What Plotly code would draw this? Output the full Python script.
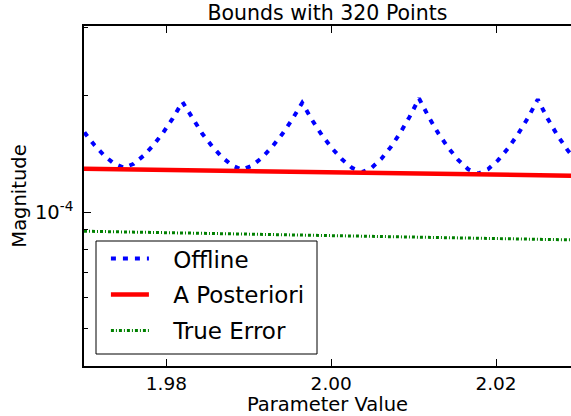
import plotly.graph_objects as go

# Offline bound (blue dashed)
offline_x = [1.9677, 1.96889, 1.97009, 1.97128, 1.97247, 1.97367, 1.97486,
             1.97604, 1.97722, 1.97841, 1.97959, 1.98077, 1.98195,
             1.98316, 1.98436, 1.98557, 1.98677, 1.98798, 1.98918,
             1.99040, 1.99161, 1.99283, 1.99404, 1.99526, 1.99647,
             1.99769, 1.99890, 2.00012, 2.00134, 2.00255, 2.00377,
             2.00492, 2.00607, 2.00722, 2.00836, 2.00951, 2.01066,
             2.01185, 2.01304, 2.01424, 2.01543, 2.01662, 2.01781,
             2.01902, 2.02023, 2.02144, 2.02265, 2.02386, 2.02507,
             2.02626, 2.02745, 2.02864, 2.02982, 2.03101, 2.0322]
offline_y = [1.930e-4, 1.750e-4, 1.605e-4, 1.490e-4, 1.400e-4, 1.335e-4, 1.304e-4,
             1.335e-4, 1.400e-4, 1.490e-4, 1.605e-4, 1.750e-4, 1.930e-4,
             1.745e-4, 1.596e-4, 1.479e-4, 1.387e-4, 1.321e-4, 1.289e-4,
             1.320e-4, 1.385e-4, 1.476e-4, 1.591e-4, 1.738e-4, 1.919e-4,
             1.731e-4, 1.580e-4, 1.462e-4, 1.368e-4, 1.302e-4, 1.270e-4,
             1.304e-4, 1.374e-4, 1.474e-4, 1.603e-4, 1.765e-4, 1.970e-4,
             1.761e-4, 1.595e-4, 1.465e-4, 1.364e-4, 1.292e-4, 1.258e-4,
             1.292e-4, 1.362e-4, 1.462e-4, 1.591e-4, 1.753e-4, 1.958e-4,
             1.748e-4, 1.582e-4, 1.452e-4, 1.351e-4, 1.279e-4, 1.245e-4]

# A posteriori bound (red solid)
apost_x = [1.97, 1.98, 1.99, 2.00, 2.01, 2.02, 2.0291]
apost_y = [1.296e-4, 1.286e-4, 1.277e-4, 1.268e-4, 1.259e-4, 1.250e-4, 1.243e-4]

# True error (green dash-dot)
true_x = [1.97, 1.98, 1.99, 2.00, 2.01, 2.02, 2.0291]
true_y = [0.893e-4, 0.885e-4, 0.877e-4, 0.869e-4, 0.862e-4, 0.855e-4, 0.848e-4]

x_ticks = [1.98, 2.00, 2.02]
x_tick_text = ["1.98", "2.00", "2.02"]
y_ticks = [1e-4]
y_tick_text = ["10<sup>-4</sup>"]
y_minor = [4e-5, 5e-5, 6e-5, 7e-5, 8e-5, 9e-5, 2e-4, 3e-4]

FONT = "DejaVu Sans"
PAD = "\u00a0\u00a0\u2009"

fig = go.Figure()
fig.add_trace(go.Scatter(x=offline_x, y=offline_y, mode="lines", name=PAD + "Offline",
                         legendgroup="a",
                         line=dict(color="#0000ff", width=4, dash="5px,7px")))
fig.add_trace(go.Scatter(x=apost_x, y=apost_y, mode="lines", name=PAD + "A Posteriori",
                         legendgroup="b",
                         line=dict(color="#ff0000", width=4.5)))
fig.add_trace(go.Scatter(x=true_x, y=true_y, mode="lines", name=PAD + "True Error",
                         legendgroup="c",
                         line=dict(color="#008000", width=3, dash="3px,2px,1px,2px")))

fig.update_layout(
    width=571, height=416,
    margin=dict(l=84, r=0, t=26, b=50, autoexpand=False),
    paper_bgcolor="white", plot_bgcolor="white",
    font=dict(family=FONT, color="black"),
    title=dict(text="Bounds with 320 Points", font=dict(size=20.5, family=FONT),
               x=0.5, xref="paper", xanchor="center",
               y=1 - 13 / 416, yref="container", yanchor="middle"),
    showlegend=True,
    legend=dict(x=0.045, y=0.379, xanchor="left", yanchor="top",
                bgcolor="rgba(0,0,0,0)", borderwidth=0,
                traceorder="grouped", tracegroupgap=3,
                font=dict(size=23, family=FONT), itemwidth=38),
    shapes=[dict(type="rect", xref="paper", yref="paper",
                 x0=(96 - 84) / 487, x1=(317 - 84) / 487,
                 y0=(366 - 354) / 340, y1=(366 - 241) / 340,
                 line=dict(color="black", width=1), fillcolor="white", layer="below")],
)

fig.update_xaxes(
    range=[1.97, 2.0291], automargin=False,
    tickvals=x_ticks, ticktext=x_tick_text,
    tickfont=dict(size=18.5, family=FONT),
    ticks="inside", ticklen=7, tickwidth=1, tickcolor="black",
    showline=True, linecolor="black", linewidth=1.5, mirror="ticks",
    showgrid=False, zeroline=False,
    title=dict(text="Parameter Value", font=dict(size=19.5, family=FONT), standoff=2),
)
fig.update_yaxes(
    type="log", automargin=False,
    range=[-4.398, -3.518],
    tickvals=y_ticks, ticktext=y_tick_text,
    tickfont=dict(size=19.5, family=FONT), ticklabelstandoff=5,
    ticks="inside", ticklen=7, tickwidth=1, tickcolor="black",
    minor=dict(tickvals=y_minor, ticks="inside", ticklen=4, tickwidth=1, tickcolor="black", showgrid=False),
    showline=True, linecolor="black", linewidth=1.5, mirror=False,
    showgrid=False, zeroline=False,
    title=dict(text="Magnitude", font=dict(size=19.5, family=FONT), standoff=3),
)

fig.write_html("out.html", config={"displayModeBar": False},
               post_script="document.body.style.margin='0';")
